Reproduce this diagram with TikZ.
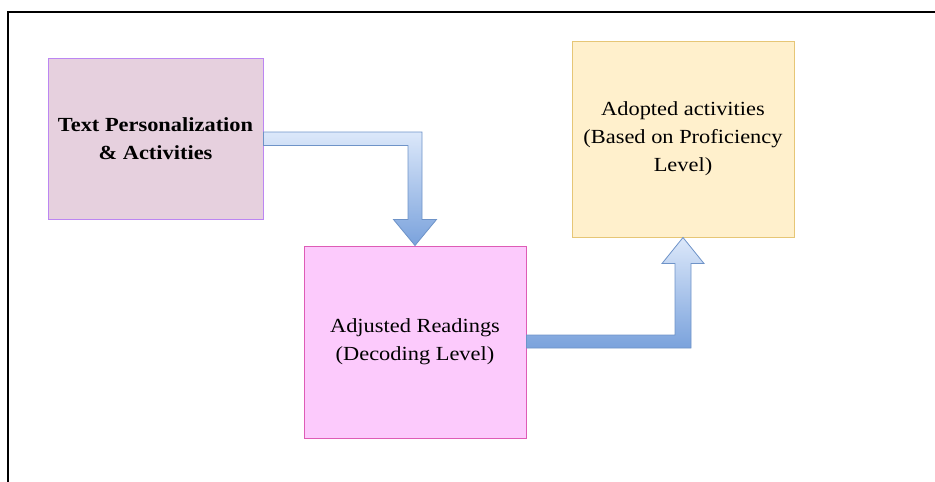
\documentclass[tikz,border=0pt]{standalone}
\usepackage{fontspec}
\setmainfont{Liberation Serif}[FakeStretch=1.12]
\usetikzlibrary{calc}

\definecolor{persfill}{HTML}{E6D0DE}
\definecolor{persline}{HTML}{BC86F2}
\definecolor{adjfill}{HTML}{FCCAFC}
\definecolor{adjline}{HTML}{DE5CB6}
\definecolor{adopfill}{HTML}{FFF0CC}
\definecolor{adopline}{HTML}{E6C676}
\definecolor{arrlight}{HTML}{DCE8FA}
\definecolor{arrdark}{HTML}{7AA2DC}
\definecolor{arrline}{HTML}{6E93C8}

\begin{document}
\begin{tikzpicture}[x=1pt, y=-1pt,
  box/.style={rectangle, draw, line width=1pt, align=center,
    inner sep=0pt, font=\fontsize{20}{28}\selectfont},
  bigarrow/.style={draw=arrline, line width=0.8pt, line join=miter,
    top color=arrlight, bottom color=arrdark}]
\useasboundingbox (0,0) rectangle (935,482);

% frame
\draw[line width=1.3pt] (8,482) -- (8,12) -- (935,12);

\node[box, fill=persfill, draw=persline, minimum width=215, minimum height=161]
  (pers) at (155.5,138.5) {\bfseries Text Personalization\\ \bfseries \& Activities};
\node[box, fill=adjfill, draw=adjline, minimum width=222, minimum height=192]
  (adj) at (415,342) {Adjusted Readings\\(Decoding Level)};
\node[box, fill=adopfill, draw=adopline, minimum width=222, minimum height=196]
  (adop) at (683,139) {Adopted activities\\(Based on Proficiency\\Level)};

% arrow from personalization down to readings
\coordinate (t1) at (adj.north);
\draw[bigarrow] ($(pers.east)+(0,-6.5)$) -- ($(t1|-pers.east)+(7,-6.5)$)
  -- ($(t1)+(7,-26)$) -- ($(t1)+(21.5,-26)$) -- (t1)
  -- ($(t1)+(-21.5,-26)$) -- ($(t1)+(-7,-26)$)
  -- ($(t1|-pers.east)+(-7,7)$) -- ($(pers.east)+(0,7)$) -- cycle;

% arrow from readings up to activities
\coordinate (t2) at (adop.south);
\draw[bigarrow] ($(adj.east)+(0,-7)$) -- ($(t2|-adj.east)+(-8,-7)$)
  -- ($(t2)+(-8,26)$) -- ($(t2)+(-21,26)$) -- (t2)
  -- ($(t2)+(21,26)$) -- ($(t2)+(8,26)$)
  -- ($(t2|-adj.east)+(8,6)$) -- ($(adj.east)+(0,6)$) -- cycle;
\end{tikzpicture}
\end{document}
